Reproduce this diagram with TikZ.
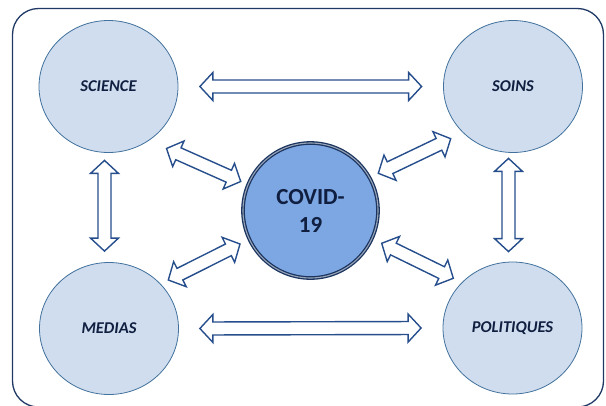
\documentclass[tikz,border=0pt]{standalone}
\usepackage{fontspec}
\setmainfont{Carlito}
\usetikzlibrary{calc, shapes.geometric}
\definecolor{navy}{HTML}{1F3864}
\definecolor{pale}{HTML}{D0DDEE}
\definecolor{rim}{HTML}{41719C}
\definecolor{arrowblue}{HTML}{264E8C}
\definecolor{covfill}{HTML}{7DA7E3}
\definecolor{covrim}{HTML}{1B3560}
\definecolor{inkblue}{HTML}{101E40}

\tikzset{
  theme/.style={ellipse, draw=rim, line width=0.8pt, fill=pale, inner sep=0pt,
    minimum width=139pt, minimum height=132pt, text=inkblue,
    font=\fontsize{16.5}{19}\selectfont\bfseries\itshape},
  core/.style={circle, draw=covrim, line width=1.3pt, double=covrim!45, double distance=1.1pt,
    fill=covfill, minimum size=135pt, inner sep=0pt, align=center, text=inkblue,
    font=\fontsize{23}{28}\selectfont\bfseries},
  blockarrow/.style={draw=arrowblue, line width=1.4pt, fill=white, line join=miter}
}

% hollow double arrow between two named points
\newcommand{\dblarrow}[2]{%
  \draw[blockarrow] (#1)
    -- ($(#1)!13pt!(#2)!14pt!90:(#2)$)
    -- ($(#1)!13pt!(#2)!6.5pt!90:(#2)$)
    -- ($(#2)!13pt!(#1)!6.5pt!-90:(#1)$)
    -- ($(#2)!13pt!(#1)!14pt!-90:(#1)$)
    -- (#2)
    -- ($(#2)!13pt!(#1)!14pt!90:(#1)$)
    -- ($(#2)!13pt!(#1)!6.5pt!90:(#1)$)
    -- ($(#1)!13pt!(#2)!6.5pt!-90:(#2)$)
    -- ($(#1)!13pt!(#2)!14pt!-90:(#2)$)
    -- cycle;}

\begin{document}
\begin{tikzpicture}[x=1pt, y=-1pt]
  \useasboundingbox (0,0) rectangle (606,405);
  \draw[navy, line width=1.3pt, rounded corners=26pt] (12.5,8.5) rectangle (603.5,407);

  %----------------------------------------------------------------
  \node(sci) [theme] at (108.5,86.5) {SCIENCE};
  \node(soi) [theme] at (513,86.5) {SOINS};
  \node(med) [theme] at (109,328.5) {MEDIAS};
  \node(pol) [theme] at (512.5,328) {POLITIQUES};

  \node(cov) [core] at (310.5,210.5) {COVID-\\19};

  %----------------------------------------------------------------
  \coordinate (sciR) at ([xshift=21.5pt]sci.east);
  \coordinate (soiL) at ([xshift=-21.5pt]soi.west);
  \coordinate (medR) at ([xshift=21pt]med.east);
  \coordinate (polL) at ([xshift=-21.5pt]pol.west);
  \coordinate (sciB) at ([xshift=-4pt, yshift=-7.5pt]sci.south);
  \coordinate (medT) at ([xshift=-4.5pt, yshift=11pt]med.north);
  \coordinate (soiB) at ([xshift=-4.5pt, yshift=-5.5pt]soi.south);
  \coordinate (polT) at ([xshift=-4pt, yshift=10pt]pol.north);

  \coordinate (d1a) at (166.5,148.5);
  \coordinate (d1b) at (240.7,181.5);
  \coordinate (d2a) at (378.3,173.3);
  \coordinate (d2b) at (450.7,138.7);
  \coordinate (d3a) at (168.3,280);
  \coordinate (d3b) at (240,244);
  \coordinate (d4a) at (381.7,243.3);
  \coordinate (d4b) at (453.3,278.3);

  %----------------------------------------------------------------
  \dblarrow{sciR}{soiL}
  \dblarrow{medR}{polL}
  \dblarrow{sciB}{medT}
  \dblarrow{soiB}{polT}
  \dblarrow{d1a}{d1b}
  \dblarrow{d2a}{d2b}
  \dblarrow{d3a}{d3b}
  \dblarrow{d4a}{d4b}
\end{tikzpicture}
\end{document}
